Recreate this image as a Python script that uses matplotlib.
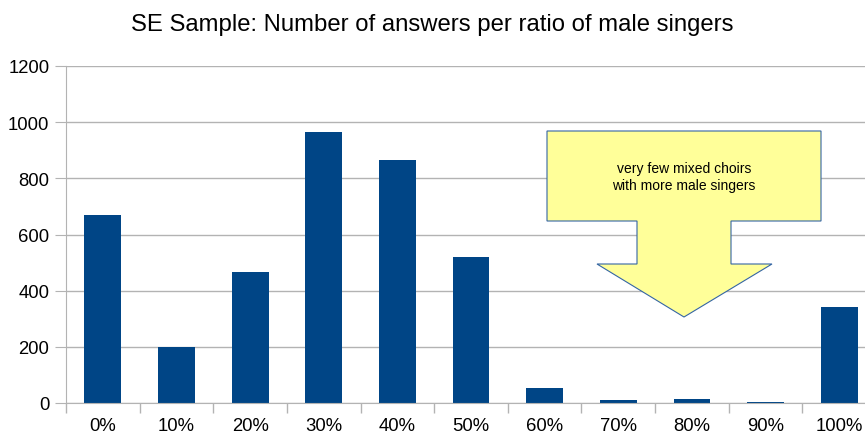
import numpy as np
import matplotlib.pyplot as plt
from matplotlib.patches import Polygon

plt.rcParams['font.family'] = ['Liberation Sans', 'DejaVu Sans']

# Data
categories = ['0%', '10%', '20%', '30%', '40%', '50%', '60%', '70%', '80%', '90%', '100%']
answers = [669, 199, 466, 965, 865, 520, 54, 11, 15, 4, 342]
y_ticks = [0, 200, 400, 600, 800, 1000, 1200]
note = 'very few mixed choirs\nwith more male singers'

W, H = 865, 439
fig = plt.figure(figsize=(W / 100, H / 100), dpi=100)

# axes runs a bit past the right edge, like the original export
left, right, top, bottom = 66, 876, 67, 404
ax = fig.add_axes([left / W, 1 - bottom / H, (right - left) / W, (bottom - top) / H])

x = np.arange(len(categories))
ax.bar(x, answers, width=0.5, color='#004586', zorder=3)

ax.set_xlim(-0.5, len(categories) - 0.5)
ax.set_ylim(0, 1200)
ax.set_yticks(y_ticks)
ax.set_xticks(x)
ax.set_xticklabels(categories)
ax.set_xticks(np.arange(len(categories) + 1) - 0.5, minor=True)

ax.grid(axis='y', color='#b3b3b3', linewidth=1, zorder=0)
for s in ['top', 'right']:
    ax.spines[s].set_visible(False)
for s in ['left', 'bottom']:
    ax.spines[s].set_color('#b3b3b3')
    ax.spines[s].set_zorder(4)

ax.tick_params(axis='x', which='major', length=0, labelsize=13.3, pad=10, colors='#000000')
ax.tick_params(axis='x', which='minor', length=7, color='#b3b3b3', width=1)
ax.tick_params(axis='y', length=8, color='#b3b3b3', labelsize=13.3, pad=4)

fig.suptitle('SE Sample: Number of answers per ratio of male singers',
             fontsize=17.2, x=0.5, y=1 - 25 / H, va='center')

# call-out arrow (pixel outline of the original shape)
pts = [(547, 132), (821, 132), (821, 222), (731, 222), (731, 265), (772, 265),
       (684, 318), (597, 265), (637, 265), (637, 222), (547, 222)]
pts = [(px / W, 1 - py / H) for px, py in pts]
arrow = Polygon(pts, closed=True, facecolor='#ffff99', edgecolor='#3465a4',
                linewidth=0.8, transform=fig.transFigure, zorder=5)
fig.patches.append(arrow)
fig.text(684 / W, 1 - 177.5 / H, note, ha='center', va='center', fontsize=10,
         linespacing=1.35, zorder=6)

fig.savefig('out.png', dpi=100)
